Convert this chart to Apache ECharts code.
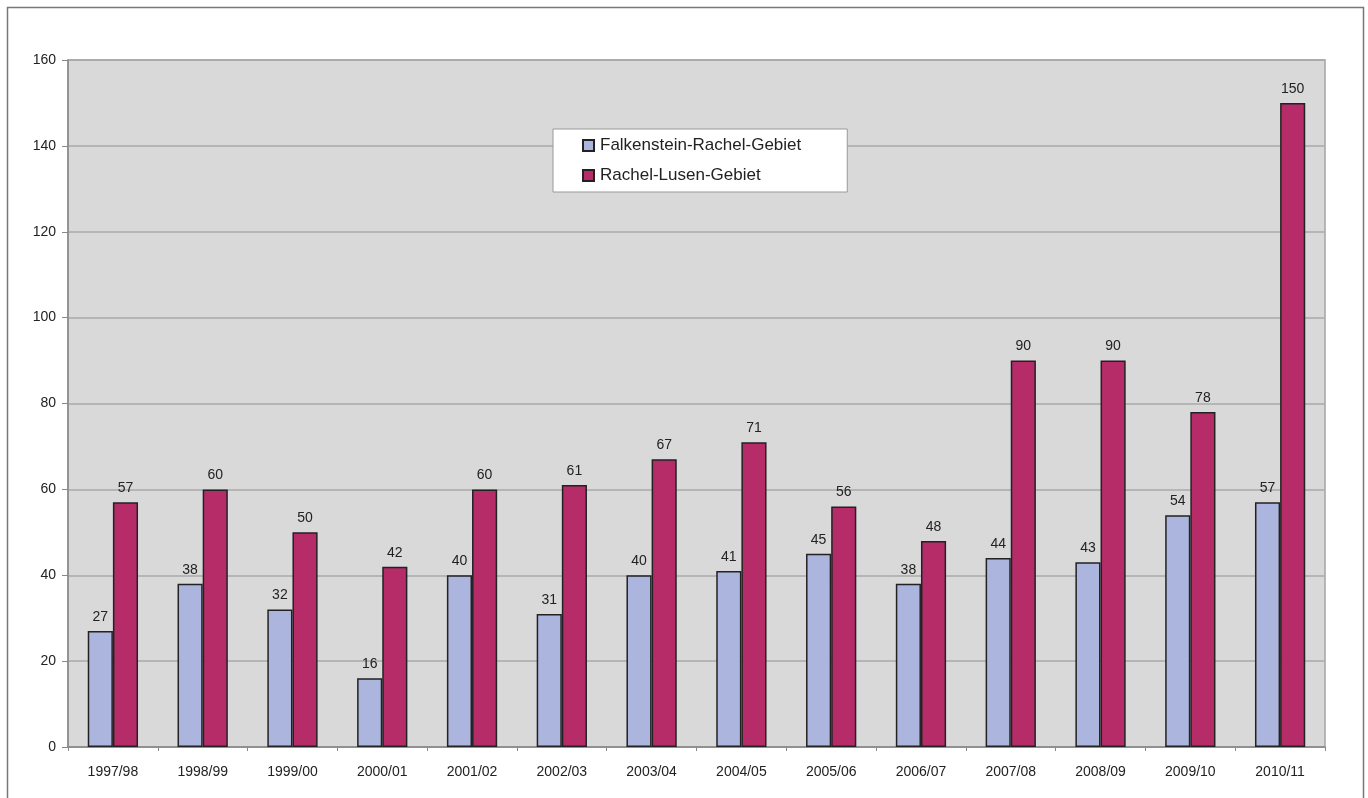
<!DOCTYPE html>
<html>
<head>
<meta charset="utf-8">
<style>
html, body { margin: 0; padding: 0; background: #fff; }
#chart { width: 1368px; height: 798px; }
</style>
<script src="https://cdn.jsdelivr.net/npm/echarts@6/dist/echarts.min.js"></script>
</head>
<body>
<div id="chart"></div>
<script>
var seasons = ['1997/98', '1998/99', '1999/00', '2000/01', '2001/02', '2002/03', '2003/04',
    '2004/05', '2005/06', '2006/07', '2007/08', '2008/09', '2009/10', '2010/11'];
var falkenstein = [27, 38, 32, 16, 40, 31, 40, 41, 45, 38, 44, 43, 54, 57];
var rachelLusen = [57, 60, 50, 42, 60, 61, 67, 71, 56, 48, 90, 90, 78, 150];
var seriesNames = ['Falkenstein-Rachel-Gebiet', 'Rachel-Lusen-Gebiet'];

var chart = echarts.init(document.getElementById('chart'));

var labelStyle = {
    show: true,
    position: 'top',
    distance: 7,
    color: '#222',
    fontFamily: 'Liberation Sans, Arial',
    fontSize: 14
};

var option = {
    animation: false,
    textStyle: { fontFamily: 'Liberation Sans, Arial' },
    graphic: [{
        type: 'rect',
        shape: { x: 7.5, y: 7.5, width: 1356, height: 800 },
        style: { fill: 'none', stroke: '#777', lineWidth: 1.5 },
        silent: true
    }],
    grid: {
        left: 68,
        right: 43,
        top: 60,
        bottom: 51,
        show: true,
        backgroundColor: '#d9d9d9',
        borderColor: '#a4a4a4',
        borderWidth: 1.5
    },
    legend: {
        orient: 'vertical',
        left: 553,
        top: 129,
        padding: [8, 46, 8, 29],
        itemGap: 13,
        itemWidth: 11,
        itemHeight: 11,
        backgroundColor: '#fff',
        borderColor: '#999',
        borderWidth: 1,
        icon: 'rect',
        textStyle: { fontSize: 17, color: '#222', padding: [0, 0, 0, 1] },
        data: seriesNames
    },
    xAxis: {
        type: 'category',
        data: seasons,
        axisLine: { lineStyle: { color: '#888', width: 1.5 } },
        axisTick: { show: true, length: 4, lineStyle: { color: '#888' } },
        axisLabel: { color: '#222', fontSize: 14, margin: 18 }
    },
    yAxis: {
        type: 'value',
        min: 0,
        max: 160,
        interval: 20,
        axisLine: { show: true, lineStyle: { color: '#888', width: 1.5 } },
        axisTick: { show: true, length: 6, lineStyle: { color: '#888' } },
        axisLabel: { color: '#222', fontSize: 14, margin: 12 },
        splitLine: { lineStyle: { color: '#a8a8a8', width: 1.5 } }
    },
    series: [{
        name: seriesNames[0],
        type: 'bar',
        data: falkenstein,
        barGap: '0%',
        barCategoryGap: '44%',
        itemStyle: { color: '#abb5dd', borderColor: '#222', borderWidth: 1.5 },
        label: labelStyle
    }, {
        name: seriesNames[1],
        type: 'bar',
        data: rachelLusen,
        itemStyle: { color: '#b52c69', borderColor: '#222', borderWidth: 1.5 },
        label: labelStyle
    }]
};

chart.setOption(option);
</script>
</body>
</html>
